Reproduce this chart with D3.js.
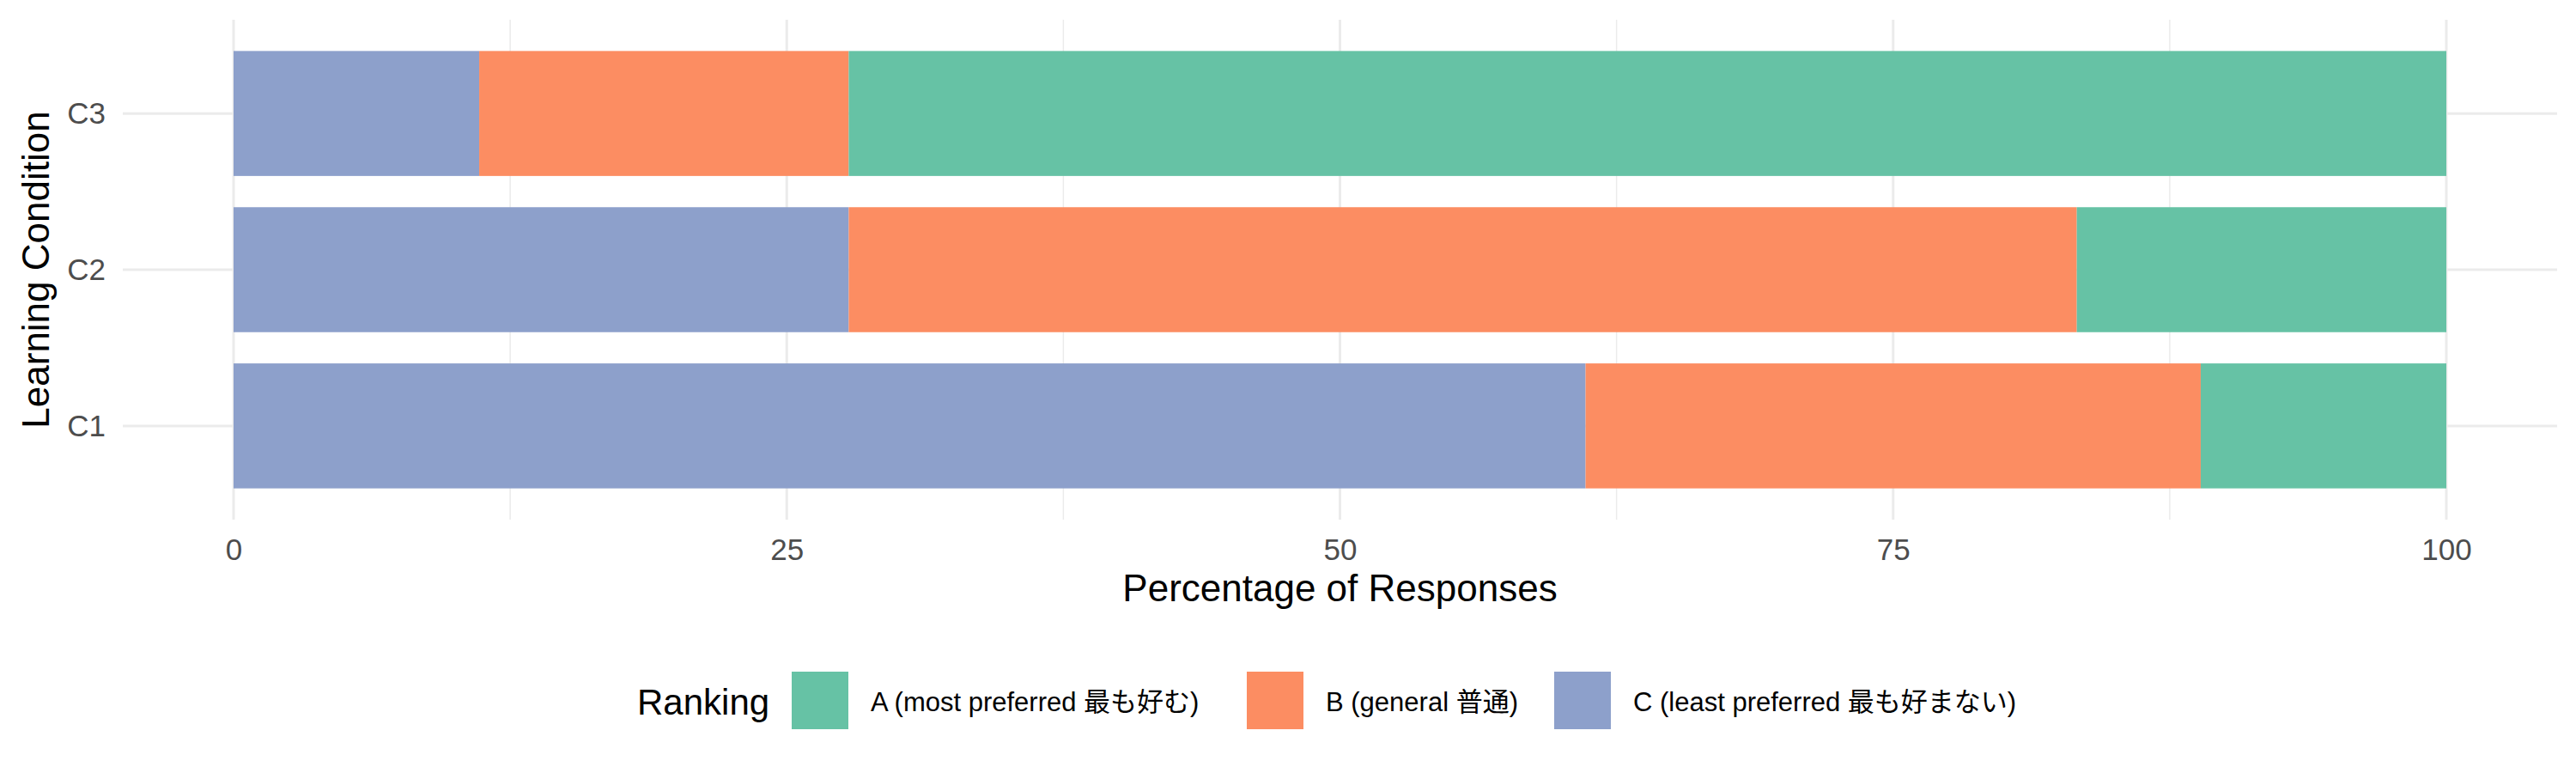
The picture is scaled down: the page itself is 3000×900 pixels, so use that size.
<!DOCTYPE html>
<html><head><meta charset="utf-8">
<script src="https://cdn.jsdelivr.net/npm/d3@7"></script>
<style>body{margin:0;background:#fff}text{font-family:"Liberation Sans","Noto Sans CJK JP",sans-serif}</style>
</head><body><svg id="svg" width="3000" height="900"></svg>
<script>
var conditions = ["C3", "C2", "C1"],
  rankings = ["C", "B", "A"],
  legendLabels = ["A (most preferred 最も好む)", "B (general 普通)", "C (least preferred 最も好まない)"],
  legendKeys = ["A", "B", "C"],
  valuesC = [11.1, 27.8, 61.1],
  valuesB = [16.7, 55.5, 27.8],
  valuesA = [72.2, 16.7, 11.1],
  xTicks = [0, 25, 50, 75, 100],
  xMinor = [12.5, 37.5, 62.5, 87.5];

var colors = { A: "#66c2a5", B: "#fc8d62", C: "#8da0cb" };
var svg = d3.select("#svg");
var x = d3.scaleLinear().domain([0, 100]).range([272, 2849]);
var y = d3.scalePoint().domain(conditions).range([23, 605]).padding(0.6);
var barH = y.step() * 0.8;

var rows = conditions.map(function (c, i) {
  return { cond: c, C: valuesC[i], B: valuesB[i], A: valuesA[i] };
});
var stacked = d3.stack().keys(rankings)(rows);

var grid = svg.append("g");
grid.selectAll(".minor").data(xMinor).enter().append("line")
  .attr("x1", x).attr("x2", x).attr("y1", 23).attr("y2", 605)
  .attr("stroke", "#ebebeb").attr("stroke-width", 1.5);
grid.selectAll(".major").data(xTicks).enter().append("line")
  .attr("x1", x).attr("x2", x).attr("y1", 23).attr("y2", 605)
  .attr("stroke", "#ebebeb").attr("stroke-width", 3);
grid.selectAll(".hy").data(conditions).enter().append("line")
  .attr("x1", 143).attr("x2", 2978).attr("y1", y).attr("y2", y)
  .attr("stroke", "#ebebeb").attr("stroke-width", 3);

svg.append("g").selectAll("g").data(stacked).enter().append("g")
  .attr("fill", function (d) { return colors[d.key]; })
  .selectAll("rect").data(function (d) { return d; }).enter().append("rect")
  .attr("x", function (d) { return x(d[0]); })
  .attr("width", function (d) { return x(d[1]) - x(d[0]); })
  .attr("y", function (d) { return y(d.data.cond) - barH / 2; })
  .attr("height", barH);

// axes (ggplot theme_minimal: no lines, only labels)
var xa = svg.append("g").attr("transform", "translate(0,605)")
  .call(d3.axisBottom(x).tickValues(xTicks).tickSize(0).tickPadding(22));
var ya = svg.append("g").attr("transform", "translate(143,0)")
  .call(d3.axisLeft(y).tickSize(0).tickPadding(20));
[xa, ya].forEach(function (a) {
  a.select(".domain").remove();
  a.selectAll("text").attr("font-size", 35).attr("fill", "#4d4d4d")
    .attr("font-family", '"Liberation Sans",sans-serif');
});

svg.append("text").attr("x", x(50)).attr("y", 700).attr("text-anchor", "middle")
  .attr("font-size", 44).text("Percentage of Responses");
svg.append("text").attr("transform", "translate(57,314) rotate(-90)")
  .attr("text-anchor", "middle").attr("font-size", 44).text("Learning Condition");

// legend
var lg = svg.append("g");
lg.append("text").attr("x", 742).attr("y", 832).attr("font-size", 42).text("Ranking");
var keyX = [922, 1452, 1810];
legendKeys.forEach(function (k, i) {
  lg.append("rect").attr("x", keyX[i]).attr("y", 782).attr("width", 66).attr("height", 67)
    .attr("fill", colors[k]);
  lg.append("text").attr("x", keyX[i] + 92).attr("y", 828).attr("font-size", 31)
    .text(legendLabels[i]);
});
</script></body></html>
